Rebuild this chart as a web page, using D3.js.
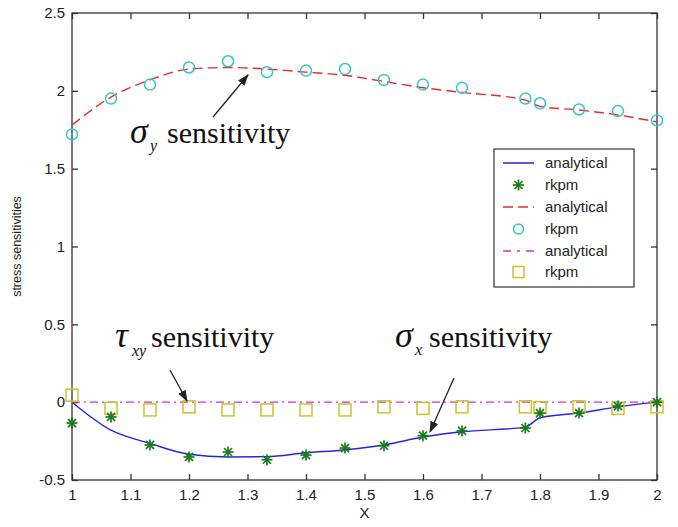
<!DOCTYPE html>
<html><head><meta charset="utf-8">
<script src="https://cdn.jsdelivr.net/npm/d3@7"></script>
<style>body{margin:0;background:#fff}</style>
</head><body>
<svg id="c" width="678" height="527"></svg>
<script>
const xs = [1, 1.0667, 1.1333, 1.2, 1.2667, 1.3333, 1.4, 1.4667, 1.5333, 1.6, 1.6667, 1.775, 1.8, 1.8667, 1.9333, 2];
const sigmaYAnalytical = [1.78, 1.96, 2.07, 2.14, 2.15, 2.14, 2.12, 2.10, 2.06, 2.02, 1.99, 1.94, 1.90, 1.877, 1.845, 1.80];
const sigmaYRkpm = [1.72, 1.95, 2.04, 2.15, 2.19, 2.12, 2.13, 2.14, 2.07, 2.04, 2.02, 1.95, 1.92, 1.88, 1.87, 1.81];
const sigmaXAnalytical = [0, -0.18, -0.265, -0.335, -0.352, -0.35, -0.325, -0.307, -0.275, -0.224, -0.19, -0.16, -0.10, -0.07, -0.03, 0];
const sigmaXRkpm = [-0.134, -0.095, -0.275, -0.352, -0.32, -0.37, -0.34, -0.295, -0.28, -0.215, -0.185, -0.166, -0.07, -0.07, -0.025, 0];
const tauXYAnalytical = [0, 0];
const tauXYX = [1, 2];
const tauXYRkpm = [0.045, -0.04, -0.05, -0.03, -0.05, -0.05, -0.05, -0.05, -0.03, -0.04, -0.03, -0.03, -0.035, -0.03, -0.04, -0.03];
const xTicks = [1, 1.1, 1.2, 1.3, 1.4, 1.5, 1.6, 1.7, 1.8, 1.9, 2];
const yTicks = [-0.5, 0, 0.5, 1, 1.5, 2, 2.5];
const legendLabels = ["analytical", "rkpm", "analytical", "rkpm", "analytical", "rkpm"];

const svg = d3.select("#c");
const L = 72, T = 13, W = 585, H = 467;
const x = d3.scaleLinear().domain([1, 2]).range([L, L + W]);
const y = d3.scaleLinear().domain([-0.5, 2.5]).range([T + H, T]);
const tickFont = "Liberation Sans, Arial, sans-serif";

const g = svg.append("g");
g.append("rect").attr("x", L).attr("y", T).attr("width", W).attr("height", H)
  .attr("fill", "none").attr("stroke", "#333").attr("stroke-width", 1.3);

function styleAxis(sel, showLabels) {
  sel.select(".domain").remove();
  sel.selectAll(".tick line").attr("stroke", "#333").attr("stroke-width", 1.3);
  sel.selectAll(".tick text").attr("font-family", tickFont).attr("font-size", 15).attr("fill", "#222");
  if (!showLabels) sel.selectAll(".tick text").remove();
}
const fmt = d => String(+d.toFixed(2));
styleAxis(g.append("g").attr("transform", `translate(0,${T + H})`)
  .call(d3.axisBottom(x).tickValues(xTicks).tickFormat(fmt).tickSizeInner(-6).tickSizeOuter(0).tickPadding(9)), true);
styleAxis(g.append("g").attr("transform", `translate(0,${T})`)
  .call(d3.axisTop(x).tickValues(xTicks).tickSizeInner(-6).tickSizeOuter(0)), false);
styleAxis(g.append("g").attr("transform", `translate(${L},0)`)
  .call(d3.axisLeft(y).tickValues(yTicks).tickFormat(fmt).tickSizeInner(-6).tickSizeOuter(0).tickPadding(7)), true);
styleAxis(g.append("g").attr("transform", `translate(${L + W},0)`)
  .call(d3.axisRight(y).tickValues(yTicks).tickSizeInner(-6).tickSizeOuter(0)), false);

svg.append("text").attr("x", x(1.5)).attr("y", 518).attr("text-anchor", "middle")
  .attr("font-family", tickFont).attr("font-size", 15).attr("fill", "#222").text("X");
svg.append("text").attr("transform", `translate(21,${y(1)}) rotate(-90)`).attr("text-anchor", "middle")
  .attr("font-family", tickFont).attr("font-size", 12.5).attr("fill", "#222").text("stress sensitivities");

const line = d3.line().x(d => x(d[0])).y(d => y(d[1])).curve(d3.curveMonotoneX);
const plot = svg.append("g");
plot.append("path").attr("d", line(xs.map((v, i) => [v, sigmaXAnalytical[i]])))
  .attr("fill", "none").attr("stroke", "#2424e6").attr("stroke-width", 1.4);
plot.append("path").attr("d", line(xs.map((v, i) => [v, sigmaYAnalytical[i]])))
  .attr("fill", "none").attr("stroke", "#e62b2b").attr("stroke-width", 1.4).attr("stroke-dasharray", "10,5");
plot.append("path").attr("d", line(tauXYX.map((v, i) => [v, tauXYAnalytical[i]])))
  .attr("fill", "none").attr("stroke", "#cc33cc").attr("stroke-width", 1.4).attr("stroke-dasharray", "8,4,2,4");

function star(sel, cx, cy) {
  const r = 5.5, r2 = 4;
  const s = sel.append("g").attr("stroke", "#1a7a1a").attr("stroke-width", 1.7);
  s.append("line").attr("x1", cx - r).attr("x2", cx + r).attr("y1", cy).attr("y2", cy);
  s.append("line").attr("x1", cx).attr("x2", cx).attr("y1", cy - r).attr("y2", cy + r);
  s.append("line").attr("x1", cx - r2).attr("x2", cx + r2).attr("y1", cy - r2).attr("y2", cy + r2);
  s.append("line").attr("x1", cx - r2).attr("x2", cx + r2).attr("y1", cy + r2).attr("y2", cy - r2);
}
xs.forEach((v, i) => {
  plot.append("circle").attr("cx", x(v)).attr("cy", y(sigmaYRkpm[i])).attr("r", 5.5)
    .attr("fill", "none").attr("stroke", "#33c4cc").attr("stroke-width", 1.5);
  plot.append("rect").attr("x", x(v) - 6).attr("y", y(tauXYRkpm[i]) - 6).attr("width", 12).attr("height", 12)
    .attr("fill", "none").attr("stroke", "#c8c42a").attr("stroke-width", 1.5);
  star(plot, x(v), y(sigmaXRkpm[i]));
});

const serif = "Liberation Serif, Times New Roman, serif";
function annot(gx, subX, textX, py, subDy, greek, sub) {
  svg.append("text").attr("x", gx).attr("y", py).attr("font-family", serif).attr("font-size", 36)
    .attr("font-style", "italic").attr("fill", "#111").text(greek);
  svg.append("text").attr("x", subX).attr("y", py + subDy).attr("font-family", serif).attr("font-size", 16)
    .attr("font-style", "italic").attr("fill", "#111").text(sub);
  svg.append("text").attr("x", textX).attr("y", py).attr("font-family", serif).attr("font-size", 30)
    .attr("fill", "#111").text("sensitivity");
}
annot(130, 150, 167, 143, 8, "σ", "y");
annot(115, 132, 151, 347, 9, "τ", "xy");
annot(395, 415, 429, 347, 8, "σ", "x");

svg.append("defs").append("marker").attr("id", "ah").attr("viewBox", "0 0 10 10").attr("refX", 9).attr("refY", 5)
  .attr("markerWidth", 9).attr("markerHeight", 9).attr("orient", "auto")
  .append("path").attr("d", "M0,1.5 L10,5 L0,8.5 Z").attr("fill", "#222");
function arrow(x1, y1, x2, y2) {
  svg.append("line").attr("x1", x1).attr("y1", y1).attr("x2", x2).attr("y2", y2)
    .attr("stroke", "#222").attr("stroke-width", 1.3).attr("marker-end", "url(#ah)");
}
arrow(213, 117, 248, 75);
arrow(170, 370, 187, 401);
arrow(454, 378, 430, 432);

const lg = svg.append("g");
lg.append("rect").attr("x", 494).attr("y", 149).attr("width", 140).attr("height", 138)
  .attr("fill", "#fff").attr("stroke", "#333").attr("stroke-width", 1.2);
const rowY = [163, 185, 207, 229, 251, 272];
const lx1 = 503, lx2 = 534, lxm = 518.5;
lg.append("line").attr("x1", lx1).attr("x2", lx2).attr("y1", rowY[0]).attr("y2", rowY[0]).attr("stroke", "#2424e6").attr("stroke-width", 1.5);
star(lg, lxm, rowY[1]);
lg.append("line").attr("x1", lx1).attr("x2", lx2).attr("y1", rowY[2]).attr("y2", rowY[2]).attr("stroke", "#e62b2b").attr("stroke-width", 1.5).attr("stroke-dasharray", "10,5");
lg.append("circle").attr("cx", lxm).attr("cy", rowY[3]).attr("r", 5).attr("fill", "none").attr("stroke", "#33c4cc").attr("stroke-width", 1.5);
lg.append("line").attr("x1", lx1).attr("x2", lx2).attr("y1", rowY[4]).attr("y2", rowY[4]).attr("stroke", "#cc33cc").attr("stroke-width", 1.5).attr("stroke-dasharray", "8,6,3,6");
lg.append("rect").attr("x", lxm - 5.5).attr("y", rowY[5] - 5.5).attr("width", 11).attr("height", 11).attr("fill", "none").attr("stroke", "#c8c42a").attr("stroke-width", 1.5);
legendLabels.forEach((t, i) => {
  lg.append("text").attr("x", 545).attr("y", rowY[i] + 5).attr("font-family", tickFont).attr("font-size", 15).attr("fill", "#222").text(t);
});
</script>
</body></html>
